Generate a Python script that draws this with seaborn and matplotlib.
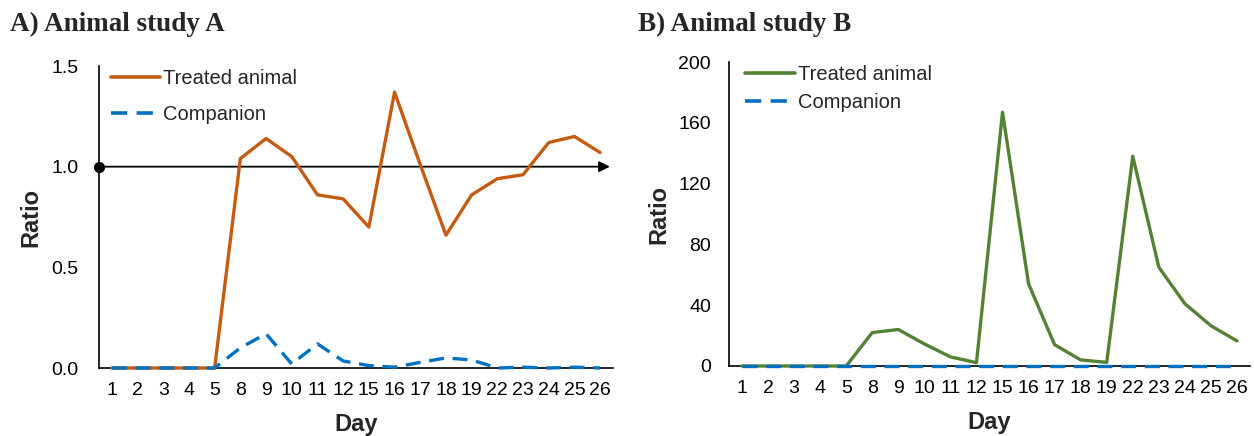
import numpy as np
import pandas as pd
import matplotlib
matplotlib.use("Agg")
import matplotlib.pyplot as plt
import seaborn as sns

# data
days = ["1", "2", "3", "4", "5", "8", "9", "10", "11", "12",
        "15", "16", "17", "18", "19", "22", "23", "24", "25", "26"]

a_treated = [0, 0, 0, 0, 0, 1.04, 1.14, 1.05, 0.86, 0.84,
             0.70, 1.37, 1.01, 0.66, 0.86, 0.94, 0.96, 1.12, 1.15, 1.07]
a_companion = [0, 0, 0, 0, 0, 0.10, 0.17, 0.02, 0.12, 0.035,
               0.012, 0.004, 0.028, 0.05, 0.04, 0, 0.004, 0, 0.004, 0]

b_treated = [0, 0, 0, 0, 0, 22, 24, 14.5, 6, 2.2,
             167, 54, 14, 4, 2.4, 138, 65, 41, 26.5, 16.5]
b_companion = [0] * 20

a_yticks = [0.0, 0.5, 1.0, 1.5]
b_yticks = [0, 40, 80, 120, 160, 200]

orange = "#C55A11"
blue = "#0070C0"
green = "#548235"

sns.set_style("white")
plt.rcParams['font.family'] = ['Liberation Sans', 'DejaVu Sans']

fig = plt.figure(figsize=(12.54, 4.36), dpi=100)
ax1 = fig.add_axes([99 / 1254, 1 - 368 / 436, 514 / 1254, 302 / 436])
ax2 = fig.add_axes([729 / 1254, 1 - 366 / 436, 521 / 1254, 304 / 436])

pos = np.arange(len(days))


def draw(ax, treated, companion, color, yticks, fmt, leg_x, leg_y, leg_space, ypad):
    sns.lineplot(x=pos, y=treated, ax=ax, color=color, lw=2.4,
                 label="Treated animal", zorder=3)
    sns.lineplot(x=pos, y=companion, ax=ax, color=blue, lw=2.4,
                 linestyle=(0, (4.5, 2.6)), label="Companion", zorder=4)
    for ln in ax.lines:
        ln.set_clip_on(False)
    ax.set_xlim(-0.5, len(days) - 0.5)
    ax.set_ylim(yticks[0], yticks[-1])
    ax.set_yticks(yticks)
    ax.set_yticklabels([fmt.format(v) for v in yticks])
    ax.set_xticks(pos)
    ax.set_xticklabels(days)
    ax.set_xticks(np.arange(len(days) + 1) - 0.5, minor=True)
    ax.tick_params(axis="x", which="major", length=0, labelsize=14, pad=10,
                   colors="black")
    ax.tick_params(axis="x", which="minor", length=6, width=1.2,
                   direction="out", color="black")
    ax.tick_params(axis="y", length=6, width=1.2, direction="out",
                   labelsize=14, colors="black", pad=ypad)
    for s in ["top", "right"]:
        ax.spines[s].set_visible(False)
    for s in ["left", "bottom"]:
        ax.spines[s].set_color("black")
        ax.spines[s].set_linewidth(1.2)
        ax.spines[s].set_zorder(1)
    ax.set_xlabel("Day", fontsize=17, fontweight="bold", labelpad=10)
    ax.set_ylabel("Ratio", fontsize=17, fontweight="bold", labelpad=6)
    leg = ax.legend(loc="upper left", bbox_to_anchor=(leg_x, leg_y), frameon=False,
                    fontsize=14.5, handlelength=2.45, handletextpad=0.15,
                    labelspacing=leg_space, borderaxespad=0.2)
    for h in leg.get_lines():
        h.set_linewidth(2.6)


draw(ax1, a_treated, a_companion, orange, a_yticks, "{:.1f}", 0.0, 1.03, 0.85, 9)
draw(ax2, b_treated, b_companion, green, b_yticks, "{:.0f}", 0.008, 1.03, 0.45, 7)

# reference line at ratio 1 with dot and arrow
ax1.annotate("", xy=(19.38, 1.0), xytext=(-0.5, 1.0),
             arrowprops=dict(arrowstyle="-|>", color="black", lw=1.3,
                             mutation_scale=16, shrinkA=0, shrinkB=0),
             zorder=2)
ax1.plot([-0.5], [1.0], "o", color="black", ms=7, clip_on=False, zorder=5)

fig.text(10 / 1254, 1 - 24 / 436, "A) Animal study A", fontsize=19.5,
         fontweight="bold", family=["Liberation Serif"], va="center")
fig.text(638 / 1254, 1 - 24 / 436, "B) Animal study B", fontsize=19.5,
         fontweight="bold", family=["Liberation Serif"], va="center")

fig.savefig("out.png", dpi=100)
